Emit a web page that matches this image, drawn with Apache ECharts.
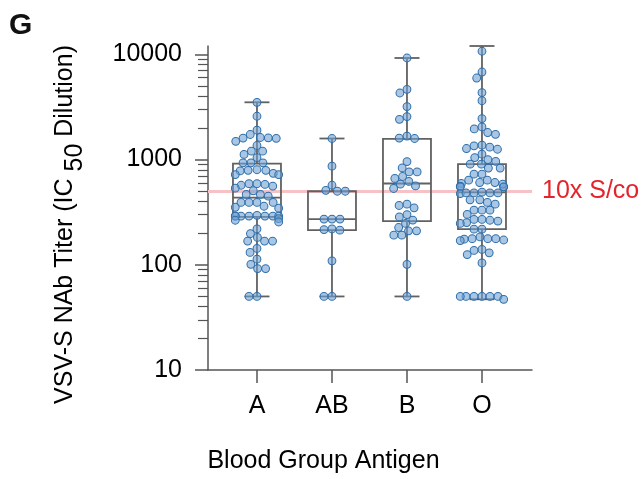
<!DOCTYPE html>
<html>
<head>
<meta charset="utf-8">
<script src="https://cdn.jsdelivr.net/npm/echarts@6/dist/echarts.min.js"></script>
<style>html,body{margin:0;padding:0;background:#fff}#c{width:641px;height:479px}</style>
</head>
<body>
<div id="c"></div>
<script>
// ---- data ----
const categories = ['A', 'AB', 'B', 'O'];
const yTickValues = [10, 100, 1000, 10000];
const yMinorTickValues = [20,30,40,50,60,70,80,90,200,300,400,500,600,700,800,900,2000,3000,4000,5000,6000,7000,8000,9000];
const cutoffValue = 500;
const cutoffLabel = '10x S/co';
// box stats: [min, Q1, median, Q3, max]
const boxA  = [50, 285, 435, 916, 3500];
const boxAB = [50, 213, 272, 500, 1585];
const boxB  = [50, 260, 592, 1570, 9230];
const boxO  = [47, 218, 488, 904, 12000];
const pointsA = [3500, 2580, 1900, 1730, 1620, 1610, 1600, 1590, 1490, 1360, 1200, 1200, 1120, 1045, 930, 930, 930, 800, 790, 790, 780, 740, 720, 720, 590, 590, 580, 570, 560, 535, 505, 466, 466, 449, 391, 391, 391, 391, 360, 352, 345, 295, 290, 290, 290, 290, 290, 290, 290, 275, 265, 255, 219, 198, 182, 168, 168, 168, 143, 131, 113, 101, 92, 92, 50, 50];
const pointsAB = [1585, 865, 570, 500, 500, 510, 272, 272, 272, 213, 219, 216, 109, 50, 50];
const pointsB = [9230, 4650, 4290, 3185, 2561, 2414, 1670, 1600, 1585, 957, 832, 763, 763, 690, 661, 619, 583, 562, 531, 377, 366, 348, 300, 285, 266, 247, 226, 210, 210, 191, 191, 101, 50];
const pointsO = [10700, 6790, 5955, 4330, 3630, 2451, 1955, 2043, 1738, 1807, 1273, 1369, 1350, 1310, 1253, 1124, 1045, 1000, 960, 904, 904, 830, 830, 726, 726, 637, 637, 605, 605, 592, 550, 558, 585, 550, 550, 482, 475, 482, 490, 482, 482, 391, 377, 414, 414, 330, 330, 330, 301, 260, 252, 265, 270, 247, 270, 218, 218, 175, 184, 177, 177, 170, 177, 172, 125, 140, 130, 137, 104, 50, 50, 50, 50, 50, 50, 47];

const boxes = [boxA, boxAB, boxB, boxO];
const groups = [pointsA, pointsAB, pointsB, pointsO];

// ---- style ----
const FONT = 'Liberation Sans, Arial, Helvetica, sans-serif';
const AXIS_COLOR = '#555';
const BOX_COLOR = '#616161';

const chart = echarts.init(document.getElementById('c'), null, {renderer: 'canvas'});

const boxData = boxes.map((b, i) => [i].concat(b));
const initialPoints = [];
groups.forEach((g, i) => g.forEach(v => initialPoints.push([i, v])));

const option = {
  animation: false,
  backgroundColor: '#fff',
  grid: {left: 208, right: 109, top: 46, bottom: 109, containLabel: false},
  xAxis: {
    type: 'value', min: -0.653, max: 3.667,
    axisLine: {onZero: false, lineStyle: {color: AXIS_COLOR, width: 1.5}},
    axisTick: {customValues: [0, 1, 2, 3], length: 13, lineStyle: {color: AXIS_COLOR, width: 1.5}},
    axisLabel: {customValues: [0, 1, 2, 3], formatter: v => categories[Math.round(v)] || '',
      color: '#000', fontSize: 25, fontFamily: FONT, margin: 24},
    splitLine: {show: false}
  },
  yAxis: [{
    type: 'log', logBase: 10, min: 10, max: 12000, position: 'left',
    axisLine: {show: true, onZero: false, lineStyle: {color: AXIS_COLOR, width: 1.5}},
    axisTick: {show: true, customValues: yTickValues, length: 13, lineStyle: {color: AXIS_COLOR, width: 1.5}},
    axisLabel: {customValues: yTickValues, formatter: v => String(Math.round(v)), color: '#000', fontSize: 25, fontFamily: FONT, margin: 26},
    splitLine: {show: false}
  }, {
    type: 'log', logBase: 10, min: 10, max: 12000, position: 'left', gridIndex: 0,
    axisLine: {show: false, onZero: false},
    axisTick: {show: true, customValues: yMinorTickValues, length: 10, lineStyle: {color: AXIS_COLOR, width: 1.2}},
    axisLabel: {show: false},
    splitLine: {show: false}
  }],
  series: [{
    type: 'custom', name: 'box', z: 3,
    data: boxData,
    encode: {x: 0, y: [1, 2, 3, 4, 5]},
    renderItem: function (params, api) {
      const x = api.value(0);
      const pMin = api.coord([x, api.value(1)]);
      const pQ1 = api.coord([x, api.value(2)]);
      const pMed = api.coord([x, api.value(3)]);
      const pQ3 = api.coord([x, api.value(4)]);
      const pMax = api.coord([x, api.value(5)]);
      const cx = pMin[0], hw = 24, cw = 12.5;
      const st = {stroke: BOX_COLOR, lineWidth: 1.8, fill: 'none'};
      return {type: 'group', children: [
        {type: 'line', shape: {x1: cx, y1: pMax[1], x2: cx, y2: pQ3[1]}, style: st},
        {type: 'line', shape: {x1: cx, y1: pQ1[1], x2: cx, y2: pMin[1]}, style: st},
        {type: 'line', shape: {x1: cx - cw, y1: pMax[1], x2: cx + cw, y2: pMax[1]}, style: st},
        {type: 'line', shape: {x1: cx - cw, y1: pMin[1], x2: cx + cw, y2: pMin[1]}, style: st},
        {type: 'rect', shape: {x: cx - hw, y: pQ3[1], width: 2 * hw, height: pQ1[1] - pQ3[1]}, style: st},
        {type: 'line', shape: {x1: cx - hw, y1: pMed[1], x2: cx + hw, y2: pMed[1]}, style: st}
      ]};
    }
  }, {
    type: 'scatter', name: 'points', z: 4,
    data: initialPoints,
    symbol: 'circle', symbolSize: 7.8,
    itemStyle: {color: 'rgba(112,162,212,0.6)', borderColor: '#2f6ea9', borderWidth: 1, opacity: 1},
    markLine: {
      silent: true, symbol: ['none', 'none'], z: 1,
      label: {show: false},
      lineStyle: {color: '#f6c2c6', width: 3, type: 'solid'},
      data: [{yAxis: cutoffValue}]
    }
  }],
  graphic: [
    {type: 'text', left: 9, top: 11, style: {text: 'G', font: 'bold 30px ' + FONT, fill: '#111'}},
    {type: 'text', x: 542, y: 191, style: {text: cutoffLabel, font: '25px ' + FONT, fill: '#e4232b', verticalAlign: 'middle', align: 'left'}},
    {type: 'text', x: 323.5, y: 461, style: {text: 'Blood Group Antigen', font: '25px ' + FONT, fill: '#000', align: 'center', verticalAlign: 'middle'}},
    {type: 'text', x: 65.5, y: 224.5, rotation: Math.PI / 2,
      style: {
        text: '{m|VSV-S NAb Titer (IC }{s|50}{m| Dilution)}',
        align: 'center', verticalAlign: 'middle',
        rich: {
          m: {fontSize: 25, fontFamily: FONT, color: '#000', lineHeight: 25, verticalAlign: 'top'},
          s: {fontSize: 25, fontFamily: FONT, color: '#000', lineHeight: 25, verticalAlign: 'top', padding: [10, 0, 0, 0]}
        }
      }}
  ]
};
chart.setOption(option);

// beeswarm layout (with gutter clamp) computed from values through the axis scale
function swarmOffsets(ys, d, gutter) {
  const order = ys.map((y, i) => i).sort((a, b) => ys[a] - ys[b]);
  const placed = [];
  const off = new Array(ys.length).fill(0);
  for (const i of order) {
    const y = ys[i];
    const near = placed.filter(p => Math.abs(p.y - y) < d);
    const cands = [0];
    near.forEach(p => {
      const dx = Math.sqrt(d * d - (p.y - y) * (p.y - y));
      cands.push(p.x + dx, p.x - dx);
    });
    cands.sort((a, b) => Math.abs(a) - Math.abs(b) || a - b);
    let chosen = null;
    for (const c of cands) {
      if (near.every(p => (p.x - c) * (p.x - c) + (p.y - y) * (p.y - y) >= d * d - 1e-6)) { chosen = c; break; }
    }
    placed.push({x: chosen, y: y});
    off[i] = Math.max(-gutter, Math.min(gutter, chosen));
  }
  return off;
}
const px0 = chart.convertToPixel({xAxisIndex: 0}, 0);
const px1 = chart.convertToPixel({xAxisIndex: 0}, 1);
const unit = px1 - px0;
const swarmPoints = [];
groups.forEach((g, gi) => {
  const ys = g.map(v => chart.convertToPixel({yAxisIndex: 0}, v));
  const offs = swarmOffsets(ys, 8.0, 21.7);
  g.forEach((v, k) => swarmPoints.push([gi + offs[k] / unit, v]));
});
chart.setOption({series: [{}, {data: swarmPoints}]});
</script>
</body>
</html>
